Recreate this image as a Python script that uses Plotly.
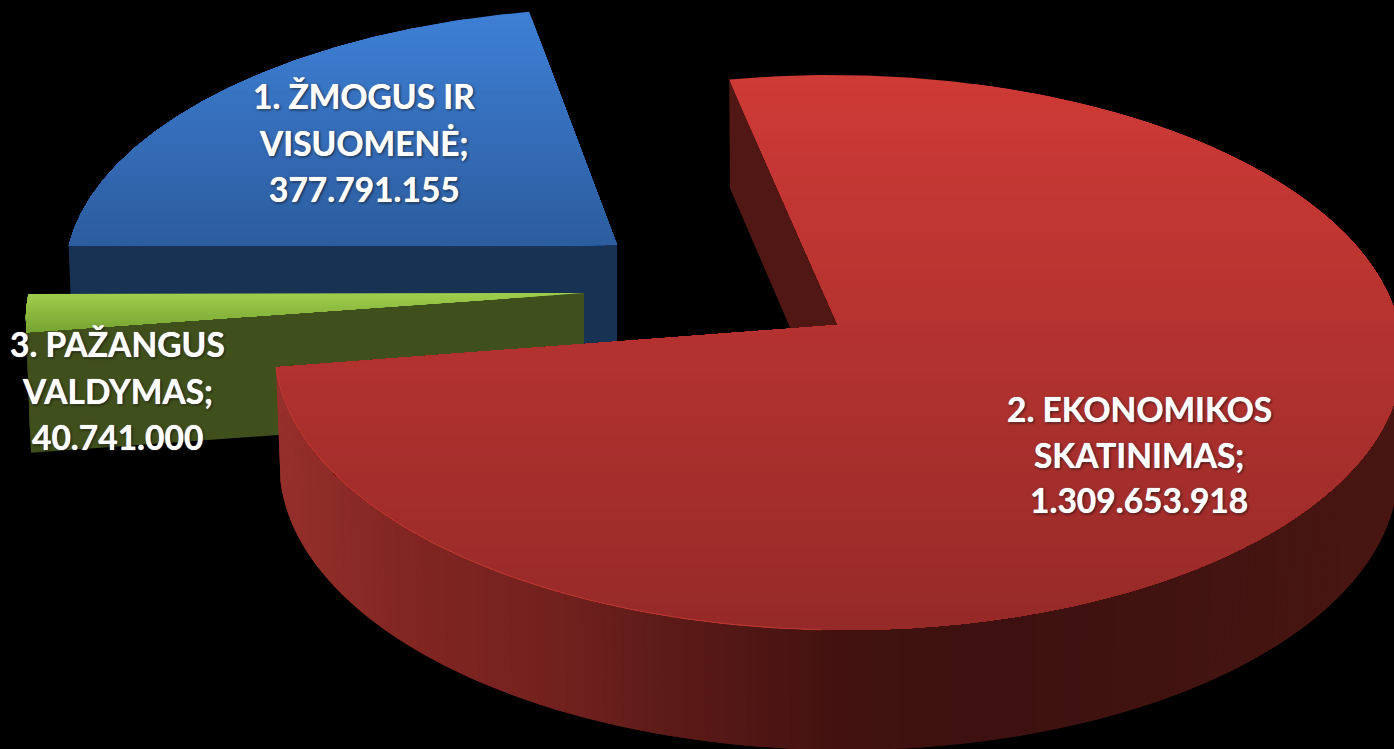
import math
import plotly.graph_objects as go

# ---- data ----
categories = ["1. ŽMOGUS IR VISUOMENĖ", "2. EKONOMIKOS SKATINIMAS", "3. PAŽANGUS VALDYMAS"]
values = [377791155, 1309653918, 40741000]
label_lines = [["1. ŽMOGUS IR", "VISUOMENĖ;"], ["2. EKONOMIKOS", "SKATINIMAS;"], ["3. PAŽANGUS", "VALDYMAS;"]]
first_slice_angle = 269.8  # clockwise from the back of the pie

# ---- styling of the 3D view ----
W, H = 1394, 749
apex = [(617, 245), (838, 325), (584, 293)]
scale_x = [0.977, 1.0, 0.99]
scale_y = [0.95, 1.0, 0.93]
skew_x = [12, -7, 0]
thick_scale = [1.0, 1.0, 1.05]
RX, RY, K, THICK, K_H, TAPER = 561.0, 274.8, 0.099, 114.0, 0.05, 0.008
top_grad = [((62, 128, 214), (44, 92, 158)), ((206, 58, 54), (150, 42, 40)), ((160, 206, 76), (118, 164, 50))]
radial_wall = [(24, 50, 84), (80, 23, 20), (64, 80, 28)]
outer_wall_stops = [(275, (150, 48, 44)), (400, (130, 38, 34)), (550, (115, 33, 30)), (650, (95, 28, 25)),
                    (750, (80, 22, 20)), (850, (65, 18, 16)), (1000, (60, 17, 15)), (1394, (72, 22, 18))]
label_x = [364, 1139, 117]
label_y = [[96, 143, 189], [409, 455, 500], [344, 391, 437]]


def proj(i, theta, r=1.0, z=0.0):
    t = math.radians(theta)
    u, v = r * math.sin(t), r * math.cos(t)
    w = 1 + K * v
    wh = 1 + K_H * v
    cx, cy = apex[i]
    dx = scale_x[i] * RX * u / w + skew_x[i] * v
    return cx + dx * (1 - TAPER * z), cy - scale_y[i] * RY * v / w + z * THICK * thick_scale[i] / wh


def mix(a, b, f):
    return tuple(int(round(a[j] + (b[j] - a[j]) * f)) for j in range(3))


def css(c):
    return f"rgb({c[0]},{c[1]},{c[2]})"


def clip_below(poly, y0):
    """Keep the part of the polygon below the line y = y0 (screen coordinates)."""
    out = []
    n = len(poly)
    for k in range(n):
        p, q = poly[k], poly[(k + 1) % n]
        if p[1] >= y0:
            out.append(p)
        if (p[1] >= y0) != (q[1] >= y0):
            f = (y0 - p[1]) / (q[1] - p[1])
            out.append((p[0] + (q[0] - p[0]) * f, y0))
    return out


fig = go.Figure()


def add_poly(poly, color):
    if len(poly) < 3:
        return
    xs = [p[0] for p in poly] + [poly[0][0]]
    ys = [p[1] for p in poly] + [poly[0][1]]
    fig.add_trace(go.Scatter(x=xs, y=ys, mode="lines", fill="toself", fillcolor=color,
                             line=dict(color=color, width=0), hoverinfo="skip", showlegend=False))


def wall_color(x):
    if x <= outer_wall_stops[0][0]:
        return outer_wall_stops[0][1]
    for (x0, c0), (x1, c1) in zip(outer_wall_stops, outer_wall_stops[1:]):
        if x <= x1:
            return mix(c0, c1, (x - x0) / (x1 - x0))
    return outer_wall_stops[-1][1]


# slice angles come from the values
total = sum(values)
angles = {}
a = first_slice_angle
for i in range(len(values)):
    sweep = 360.0 * values[i] / total
    angles[i] = (a, a + sweep)
    a += sweep


def draw_slice(i):
    a0, a1 = angles[i]
    # the radial wall that faces the viewer
    add_poly([proj(i, a0, 0, 0), proj(i, a0, 1, 0), proj(i, a0, 1, 1), proj(i, a0, 0, 1)], css(radial_wall[i]))
    # outer rim, front half only, each strip overlapping the next
    n = max(2, int((a1 - a0) / 1.0))
    for j in range(n):
        t0 = a0 + (a1 - a0) * j / n
        t1 = a0 + (a1 - a0) * (j + 1) / n
        tm = (t0 + t1) / 2
        if math.cos(math.radians(tm)) < 0:
            t2 = min(a1, t1 + (a1 - a0) / n)
            color = wall_color(proj(i, tm)[0]) if i == 1 else radial_wall[i]
            add_poly([proj(i, t0), proj(i, t2), proj(i, t2, 1, 1), proj(i, t0, 1, 1)], css(color))
    # top face with a vertical gradient, painted top to bottom
    m = max(8, int((a1 - a0) * 2))
    poly = [proj(i, a0, 0, 0)] + [proj(i, a0 + (a1 - a0) * j / m) for j in range(m + 1)]
    ymin, ymax = min(p[1] for p in poly), max(p[1] for p in poly)
    bands = 60 if i == 1 else 30
    c0, c1 = top_grad[i]
    for b in range(bands):
        y0 = ymin + (ymax - ymin) * b / bands
        add_poly(clip_below(poly, y0), css(mix(c0, c1, (b + 0.5) / bands)))


for i in [0, 2, 1]:
    draw_slice(i)

# thin highlight along the red front rim (left part only)
a0, a1 = angles[1]
rim = [proj(1, a0 + (a1 - a0) * j / 300) for j in range(301)]
rim = [p for j, p in enumerate(rim)
       if math.cos(math.radians(a0 + (a1 - a0) * j / 300)) < 0 and p[0] < 830]
fig.add_trace(go.Scatter(x=[p[0] for p in rim], y=[p[1] for p in rim], mode="lines",
                         line=dict(color="rgb(190,56,50)", width=1), hoverinfo="skip", showlegend=False))

annotations = []
for i in range(len(values)):
    val = f"{values[i]:,}".replace(",", ".")
    for line, y in zip(label_lines[i] + [val], label_y[i]):
        annotations.append(dict(
            x=label_x[i], y=y, xref="x", yref="y", text=line, showarrow=False, align="center",
            xanchor="center", yanchor="middle",
            font=dict(family="Lato", size=33.5, color="white", weight="bold",
                      shadow="0 0 1px #ffffff, 1px 1px 3px rgba(0,0,0,0.75)"),
        ))

fig.update_layout(
    width=W, height=H, margin=dict(l=0, r=0, t=0, b=0),
    paper_bgcolor="black", plot_bgcolor="black", showlegend=False,
    xaxis=dict(range=[0, W], visible=False, fixedrange=True),
    yaxis=dict(range=[H, 0], visible=False, fixedrange=True),
    annotations=annotations,
)
fig.write_html("out.html", config={"displayModeBar": False},
               post_script="document.body.style.margin='0';document.body.style.background='black';")
